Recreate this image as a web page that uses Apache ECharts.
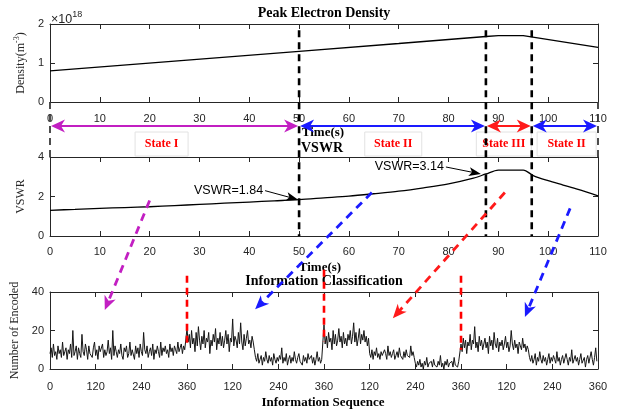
<!DOCTYPE html>
<html>
<head>
<meta charset="utf-8">
<script src="https://cdn.jsdelivr.net/npm/echarts@6/dist/echarts.min.js"></script>
<style>
  html, body { margin: 0; padding: 0; background: #fff; }
  #c { width: 620px; height: 409px; }
</style>
</head>
<body>
<div id="c"></div>
<script>
// ---- Peak electron density over time (m^-3) ----
const densityTime = [0, 50, 70, 87.5, 90, 95, 110];
const densityValues = [0.8e18, 1.3e18, 1.5e18, 1.68e18, 1.7e18, 1.7e18, 1.4e18];

// ---- VSWR over time ----
const vswrTime = [0, 5, 10, 15, 20, 25, 30, 35, 40, 45, 50, 55, 60, 65, 70, 75, 80, 85, 87.5, 90, 95, 97, 100, 103, 106, 110];
const vswrValues = [1.30, 1.35, 1.40, 1.44, 1.48, 1.54, 1.60, 1.66, 1.72, 1.78, 1.84, 1.93, 2.02, 2.14, 2.27, 2.44, 2.64, 2.93, 3.14, 3.34, 3.34, 3.06, 2.80, 2.58, 2.36, 2.03];

// annotated VSWR readings [time, value]
const vswrNotes = [[50, 1.84], [87.5, 3.14]];

// ---- plasma states along the time axis ----
const stateBounds = [0, 50, 87.5, 96.7, 110];
const stateNames = ['State I', 'State II', 'State III', 'State II'];
const stateColors = ['#c21fc2', '#1a1aff', '#ff1a1a', '#1a1aff'];

// ---- encoded count per information symbol, four runs of 360 symbols ----
const seqStep = 3;
const runLength = 360;
const encodedRun1 = [
  8,11,6,13,7,9,5,12,8,10,6,14,7,9,11,5,10,8,13,6,
  20,7,9,12,5,11,8,6,18,9,7,13,10,5,12,8,9,6,11,14,
  7,10,5,12,9,8,13,6,10,7,9,15,8,11,5,20,7,12,9,6,
  10,8,13,7,5,11,9,12,6,8,14,7,10,9,5,12,8,11,6,13,
  9,7,19,10,8,12,6,9,11,7,13,5,10,8,12,9,6,14,7,11,
  9,12,8,10,6,13,9,11,7,12,10,8,14,9,11,13,8,12,10,11
];
const encodedRun2 = [
  21,14,18,11,20,13,16,9,19,12,22,15,10,17,13,20,11,16,14,19,
  8,15,12,18,14,21,10,16,13,19,12,17,11,15,20,13,18,9,16,14,
  26,12,17,15,11,19,13,24,14,10,18,12,16,20,13,15,11,17,14,10,
  6,4,8,3,5,7,2,6,4,9,5,3,7,4,6,2,8,5,3,6,
  4,7,5,11,3,6,4,8,2,5,7,3,6,4,9,5,3,6,8,4,
  5,2,7,4,6,3,8,5,4,7,3,6,2,5,9,4,6,3,5,4
];
const encodedRun3 = [
  23,13,17,11,19,14,16,10,20,13,18,12,15,21,14,17,11,19,13,16,
  12,18,15,20,13,17,24,14,19,12,16,21,13,18,15,20,14,17,12,16,
  8,6,10,5,9,7,11,6,8,5,9,7,6,10,8,5,12,7,9,6,
  8,10,5,7,9,6,11,7,8,5,9,6,10,7,8,6,12,7,9,6,
  3,1,4,2,5,1,3,0,4,2,6,1,3,2,4,1,5,2,3,1,
  4,2,7,1,3,0,4,2,5,1,3,2,4,1,6,2,3,1,4,5
];
const encodedRun4 = [
  13,9,16,11,15,8,14,12,18,10,15,13,22,11,14,9,17,12,15,10,
  13,16,11,14,8,17,12,15,10,19,13,11,16,9,14,12,15,10,13,17,
  11,14,9,12,20,13,10,15,11,13,8,14,12,10,16,11,13,9,12,10,
  6,4,7,3,5,8,2,6,4,9,5,3,7,4,6,2,5,8,3,6,
  4,7,5,3,9,4,6,2,5,7,3,4,8,5,2,6,4,10,3,5,
  7,4,6,2,5,8,3,4,6,1,5,7,3,4,9,5,2,6,11,4
];

// ---- tick settings ----
const timeTickStep = 10;
const densityTickStep = 1e18;
const vswrTickStep = 2;
const seqTickStep = 120;
const encodedTickStep = 20;

const INK = '#262626';
const SANS = '"Liberation Sans", Arial, sans-serif';
const SERIF = '"Liberation Serif", "Times New Roman", serif';

const zip = (xs, ys) => xs.map((x, i) => [x, ys[i]]);
const encodedRuns = [encodedRun1, encodedRun2, encodedRun3, encodedRun4];
const encodedData = [];
encodedRuns.forEach((run, r) => run.forEach((v, i) => encodedData.push([r * runLength + i * seqStep, v])));

const grids = [
  { left: 50, top: 24, width: 548, height: 78 },
  { left: 50, top: 157, width: 548, height: 79 },
  { left: 50, top: 292, width: 548, height: 77 }
];

function xPair(g, min, max, interval, fmt, margin) {
  const base = {
    gridIndex: g, type: 'value', min, max, interval,
    axisLine: { onZero: false, lineStyle: { color: INK, width: 1 } },
    axisTick: { inside: true, length: 5, lineStyle: { color: INK } },
    splitLine: { show: false }
  };
  return [
    Object.assign({}, base, { position: 'bottom',
      axisLabel: { color: INK, fontSize: 11, fontFamily: SANS, margin, formatter: fmt } }),
    Object.assign({}, base, { position: 'top', axisLabel: { show: false } })
  ];
}

function yPair(g, min, max, interval, fmt, name, nameGap, rich) {
  const base = {
    gridIndex: g, type: 'value', min, max, interval,
    axisLine: { onZero: false, lineStyle: { color: INK, width: 1 } },
    axisTick: { inside: true, length: 5, lineStyle: { color: INK } },
    splitLine: { show: false }
  };
  return [
    Object.assign({}, base, { position: 'left',
      name, nameLocation: 'middle', nameRotate: 90, nameGap,
      nameTextStyle: { color: INK, fontFamily: SERIF, fontSize: 12, rich },
      axisLabel: { color: INK, fontSize: 11, fontFamily: SANS, margin: 6, formatter: fmt } }),
    Object.assign({}, base, { position: 'right', axisLabel: { show: false } })
  ];
}

const seqLabel = v => (v === 0 ? '0' : String(((v - 1) % runLength) + 1));

const chart = echarts.init(document.getElementById('c'), null, { renderer: 'canvas' });

chart.setOption({
  animation: false,
  backgroundColor: '#fff',
  grid: grids,
  xAxis: [
    ...xPair(0, 0, 110, timeTickStep, null, 11),
    ...xPair(1, 0, 110, timeTickStep, null, 10),
    ...xPair(2, 0, 4 * runLength, seqTickStep, seqLabel, 12)
  ],
  yAxis: [
    ...yPair(0, 0, 2e18, densityTickStep, v => String(v / 1e18),
      '{n|Density(m}{s|-3}{n|)}', 17,
      { n: { fontFamily: SERIF, fontSize: 12, color: INK, lineHeight: 16 },
        s: { fontFamily: SERIF, fontSize: 8, color: INK, lineHeight: 16, verticalAlign: 'top' } }),
    ...yPair(1, 0, 4, vswrTickStep, null, 'VSWR', 17),
    ...yPair(2, 0, 40, encodedTickStep, null, 'Number of Encoded', 25)
  ],
  series: [
    { type: 'line', xAxisIndex: 0, yAxisIndex: 0, data: zip(densityTime, densityValues),
      showSymbol: false, lineStyle: { color: '#000', width: 1.3 } },
    { type: 'line', xAxisIndex: 2, yAxisIndex: 2, data: zip(vswrTime, vswrValues),
      smooth: 0.3, showSymbol: false, lineStyle: { color: '#000', width: 1.3 } },
    { type: 'line', xAxisIndex: 4, yAxisIndex: 4, data: encodedData,
      showSymbol: false, lineStyle: { color: '#151515', width: 1 } }
  ]
});

// ---------- overlay drawing ----------
const P = (s, v) => chart.convertToPixel({ seriesIndex: s }, v);

function headShape(tip, from, len, half, notch, color, z) {
  const dx = tip[0] - from[0], dy = tip[1] - from[1];
  const d = Math.hypot(dx, dy), ux = dx / d, uy = dy / d, px = -uy, py = ux;
  const bx = tip[0] - ux * len, by = tip[1] - uy * len;
  return {
    type: 'polygon', z,
    shape: { points: [
      [tip[0], tip[1]],
      [bx + px * half, by + py * half],
      [tip[0] - ux * (len - notch), tip[1] - uy * (len - notch)],
      [bx - px * half, by - py * half]
    ] },
    style: { fill: color }
  };
}

function shorten(a, b, by) {
  const dx = b[0] - a[0], dy = b[1] - a[1], d = Math.hypot(dx, dy);
  return [b[0] - dx / d * by, b[1] - dy / d * by];
}

function line(a, b, stroke, lineWidth, lineDash, z) {
  return { type: 'line', z, shape: { x1: a[0], y1: a[1], x2: b[0], y2: b[1] },
    style: { stroke, lineWidth, lineDash } };
}

const g = [];

// state boundaries across the two time panels
stateBounds.slice(1, -1).forEach(t => {
  g.push(line(P(0, [t, 1.84e18]), P(1, [t, 0]), '#000', 2.6, [7, 5], 12));
});
[stateBounds[0], stateBounds[stateBounds.length - 1]].forEach(t => {
  g.push(line(P(0, [t, 0]), P(1, [t, 4]), '#3a3a3a', 1.8, [7, 5], 12));
});

// double-headed state arrows between the panels
const arrowY = P(0, [0, 0])[1] + 24;
for (let i = 0; i < stateNames.length; i++) {
  const a = [P(0, [stateBounds[i], 0])[0] + 1, arrowY];
  const b = [P(0, [stateBounds[i + 1], 0])[0] - 1, arrowY];
  const col = stateColors[i];
  g.push(line([a[0] + 8, arrowY], [b[0] - 8, arrowY], col, 2, null, 13));
  g.push(headShape(a, b, 14, 6.5, 4, col, 14));
  g.push(headShape(b, a, 14, 6.5, 4, col, 14));
}

// state name boxes
const stateLabelAt = [22.4, 68.9, 91.1, 103.7];
const stateBoxW = [53, 57, 55, 59];
stateNames.forEach((name, i) => {
  const cx = P(0, [stateLabelAt[i], 0])[0];
  const cy = arrowY + 18;
  g.push({ type: 'rect', z: 10,
    shape: { x: cx - stateBoxW[i] / 2, y: cy - 12, width: stateBoxW[i], height: 24 },
    style: { fill: '#fff', stroke: '#e2e2e2', lineWidth: 1 } });
  g.push({ type: 'text', x: cx, y: cy, z: 11,
    style: { text: name, font: 'bold 12px ' + SERIF, fill: '#ff0000', align: 'center', verticalAlign: 'middle' } });
});

// titles and axis captions
const mid = grids[0].left + grids[0].width / 2;
const T = (x, y, str, font, z) => ({ type: 'text', x, y, z: z || 20,
  style: { text: str, font, fill: '#000', align: 'center', verticalAlign: 'middle' } });
g.push(T(mid, 13, 'Peak Electron Density', 'bold 14px ' + SERIF));
g.push(T(mid - 1, 133, 'Time(s)', 'bold 13px ' + SERIF, 9));
g.push(T(mid - 2, 148, 'VSWR', 'bold 14px ' + SERIF, 9));
g.push(T(mid - 4, 268, 'Time(s)', 'bold 13px ' + SERIF, 9));
g.push(T(mid, 281, 'Information Classification', 'bold 14px ' + SERIF, 9));
g.push(T(mid - 1, 403, 'Information Sequence', 'bold 13px ' + SERIF));

// exponent of the density axis
g.push({ type: 'text', x: 51, y: 10, z: 20,
  style: { text: '{a|×10}{s|18}', fill: INK, align: 'left', verticalAlign: 'top',
    rich: { a: { fontFamily: SANS, fontSize: 12.5, lineHeight: 16, fill: INK, verticalAlign: 'bottom' },
            s: { fontFamily: SANS, fontSize: 9, lineHeight: 16, fill: INK, verticalAlign: 'top' } } } });

// VSWR reading callouts
const noteOffsets = [[-36, -9], [-42, -7]];
vswrNotes.forEach((n, i) => {
  const p = P(1, n);
  const tip = [p[0] - (i === 0 ? 1 : 5), p[1]];
  const tail = [p[0] + noteOffsets[i][0] + 2, p[1] + noteOffsets[i][1]];
  g.push({ type: 'text', x: p[0] + noteOffsets[i][0], y: p[1] + noteOffsets[i][1], z: 20,
    style: { text: 'VSWR=' + n[1].toFixed(2), font: '12.5px ' + SANS, fill: '#000', align: 'right', verticalAlign: 'middle' } });
  g.push(line(tail, shorten(tail, tip, 8), '#000', 1, null, 20));
  g.push(headShape(tip, tail, 12, 4.5, 3, '#000', 21));
});

// run boundaries in the sequence panel
[1, 2, 3].forEach((r, i) => {
  const x = r * runLength;
  const spans = [[48.5, 11], [51.5, 14], [48.5, 10]];
  g.push(line(P(2, [x, spans[i][0]]), P(2, [x, spans[i][1]]), '#ff0000', 2.6, [7, 5], 12));
});

// links from each state to its run of encoded symbols
const links = [
  { from: [20, 1.8], to: [144, 30.6], color: '#c21fc2' },
  { from: [64.6, 2.2], to: [539, 31], color: '#1a1aff' },
  { from: [91.3, 2.2], to: [901, 26.4], color: '#ff1a1a' },
  { from: [104.4, 1.4], to: [1248, 27], color: '#1a1aff' }
];
links.forEach(k => {
  const a = P(1, k.from), b = P(2, k.to);
  g.push(line(a, shorten(a, b, 9), k.color, 2.8, [8, 6], 15));
  g.push(headShape(b, a, 14, 6, 4, k.color, 16));
});

chart.setOption({ graphic: g });
</script>
</body>
</html>
